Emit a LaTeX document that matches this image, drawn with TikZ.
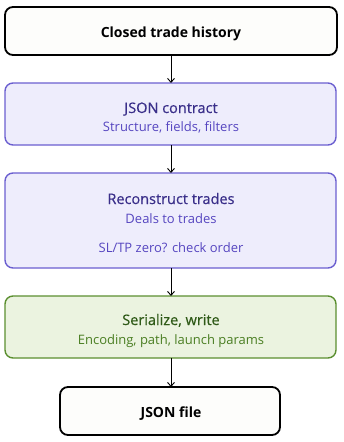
\documentclass[tikz,border=0pt]{standalone}
\usepackage{fontspec}
\setmainfont{Open Sans}
\newfontfamily\semifont[FakeBold=0.5]{Open Sans}
\usetikzlibrary{arrows.meta}
\definecolor{purpfill}{HTML}{EEEDFC}
\definecolor{purpline}{HTML}{6B5FD0}
\definecolor{purptitle}{HTML}{3A2F8A}
\definecolor{purpsub}{HTML}{5646C0}
\definecolor{grnfill}{HTML}{EBF3E0}
\definecolor{grnline}{HTML}{5B8F30}
\definecolor{grntitle}{HTML}{2F5A18}
\definecolor{grnsub}{HTML}{4A7E22}
\definecolor{whitefill}{HTML}{FDFDFB}
\tikzset{
  x=1pt,y=1pt,
  endbox/.style={draw=black, line width=1.8pt, fill=whitefill, rounded corners=8pt},
  purpbox/.style={draw=purpline, line width=1.4pt, fill=purpfill, rounded corners=8pt},
  grnbox/.style={draw=grnline, line width=1.4pt, fill=grnfill, rounded corners=8pt},
  lbl/.style={inner sep=0pt, anchor=base},
  ttl/.style={lbl, font=\fontsize{14.5}{17}\semifont},
  sub/.style={lbl, font=\fontsize{13}{15}\selectfont},
  conn/.style={-{Straight Barb[length=4pt,width=7pt]}, line width=0.9pt, black}
}
\begin{document}
\begin{tikzpicture}
\useasboundingbox (0,0) rectangle (344,-442);
% boxes
\draw[endbox] (5,-7) rectangle (337,-55);
\coordinate (b1) at (171,-55);
\node[lbl, font=\fontsize{14}{17}\selectfont\bfseries] (t1) at (171,-37.5) {Closed trade history};

\draw[purpbox] (5,-83) rectangle (336,-145);
\coordinate (b2t) at (171,-83);
\coordinate (b2b) at (171,-145);
\node[ttl, text=purptitle] (t2) at (171,-113) {JSON contract};
\node[sub, text=purpsub] (s2) at (171,-131) {Structure, fields, filters};

\draw[purpbox] (5,-173) rectangle (336,-268);
\coordinate (b3t) at (171,-173);
\coordinate (b3b) at (171,-268);
\node[ttl, text=purptitle] (t3) at (171,-204) {Reconstruct trades};
\node[sub, text=purpsub] (s3) at (171,-223) {Deals to trades};
\node[sub, text=purpsub] (s3b) at (171,-252) {SL/TP zero? check order};

\draw[grnbox] (5,-296) rectangle (336,-358);
\coordinate (b4t) at (171,-296);
\coordinate (b4b) at (171,-358);
\node[ttl, text=grntitle] (t4) at (171,-325) {Serialize, write};
\node[sub, text=grnsub] (s4) at (171,-344) {Encoding, path, launch params};

\draw[endbox] (60,-387) rectangle (280,-435);
\coordinate (b5t) at (171,-387);
\node[lbl, font=\fontsize{14}{17}\selectfont\bfseries] (t5) at (171,-417.5) {JSON file};

% connectors
\draw[conn] (b1) -- (b2t);
\draw[conn] (b2b) -- (b3t);
\draw[conn] (b3b) -- (b4t);
\draw[conn] (b4b) -- (b5t);
\end{tikzpicture}
\end{document}
